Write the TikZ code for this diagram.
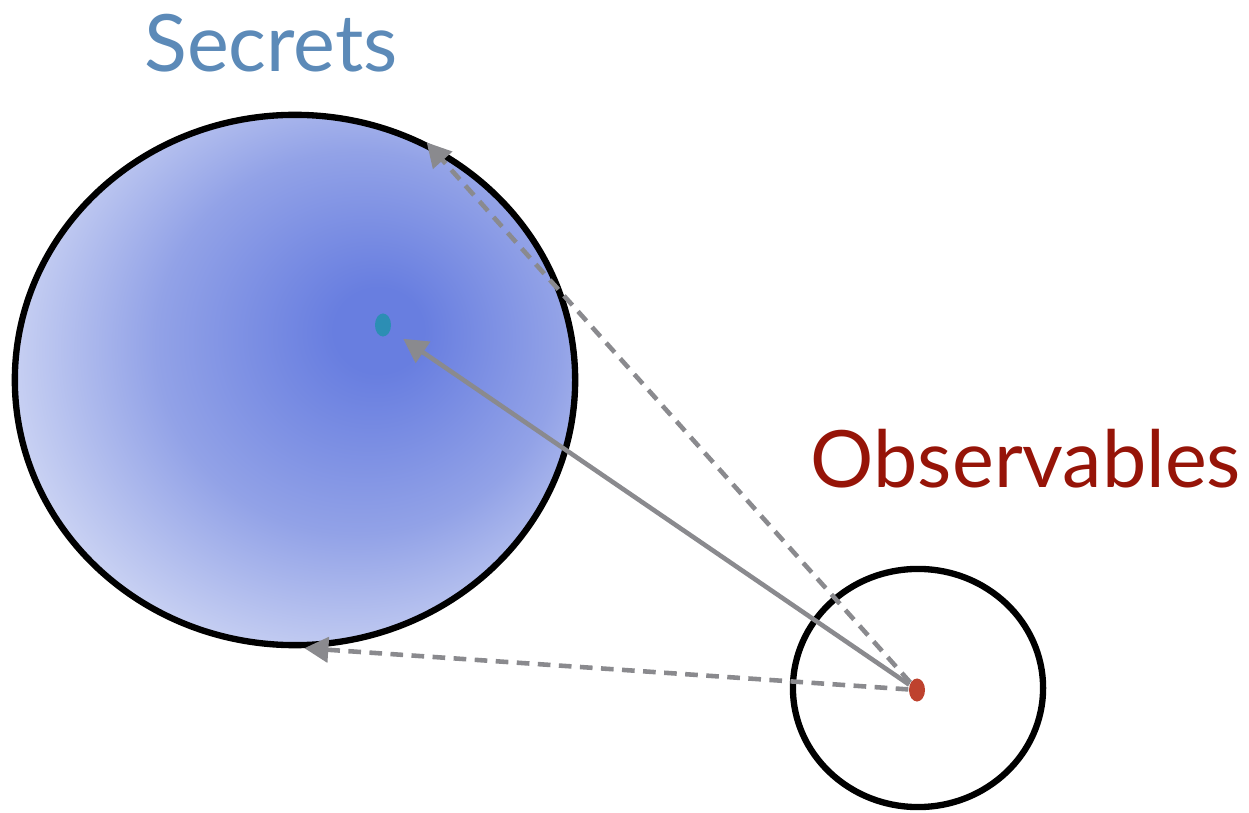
\documentclass[tikz,border=0pt]{standalone}
\usepackage{fontspec}
\setmainfont{Lato}
\usetikzlibrary{shapes.geometric,arrows.meta}
\definecolor{secretblue}{RGB}{92,138,184}
\definecolor{obsred}{RGB}{150,20,8}
\definecolor{linkgray}{RGB}{138,138,142}
\definecolor{secin}{RGB}{104,126,224}
\definecolor{secmid}{RGB}{146,162,231}
\definecolor{secout}{RGB}{226,231,248}
\pgfdeclareradialshading{secretglow}{\pgfpoint{8bp}{5bp}}{%
  color(0bp)=(secin); color(4bp)=(secin); color(18bp)=(secmid);
  color(35bp)=(secout); color(60bp)=(secout)}
\tikzset{
  setborder/.style={
    draw,
    ellipse,
    line width=1.8pt,
    inner sep=0pt
  },
  elem/.style={
    ellipse,
    inner sep=0pt,
    minimum width=1.6mm,
    minimum height=2.3mm
  },
  link/.style={
    draw=linkgray,
    line width=1.3pt,
    -{Triangle[length=2.4mm,width=2.5mm]}
  },
  guess/.style={link,dash pattern=on 3.6pt off 2.4pt},
  title/.style={anchor=base,font=\fontsize{22.5}{27}\selectfont}
}

\begin{document}
\begin{tikzpicture}[x=0.01cm,y=-0.01cm]
  \useasboundingbox (0,0) rectangle (1249,813);
  % the two sets
  \node[setborder,shading=secretglow,minimum width=5.60cm,minimum height=5.30cm]
    (secrets) at (295,380) {};
  \node[setborder,fill=white,minimum width=2.50cm,minimum height=2.38cm]
    (observables) at (918,688) {};
  % one element of each
  \node[elem,fill={rgb,255:red,44;green,142;blue,180}] (s) at (383,325) {};
  \node[elem,fill={rgb,255:red,190;green,66;blue,46}] (o) at (917,690) {};
  % links
  \draw[link,shorten >=1.5mm] (o) -- (s);
  \draw[guess] (o) -- (secrets.61);
  \draw[guess] (o) -- (secrets.-88);
  % labels
  \node[title,text=secretblue] (secretslabel) at (271,72) {Secrets};
  \node[title,text=obsred] (obslabel) at (1026,488) {Observables};
\end{tikzpicture}
\end{document}
